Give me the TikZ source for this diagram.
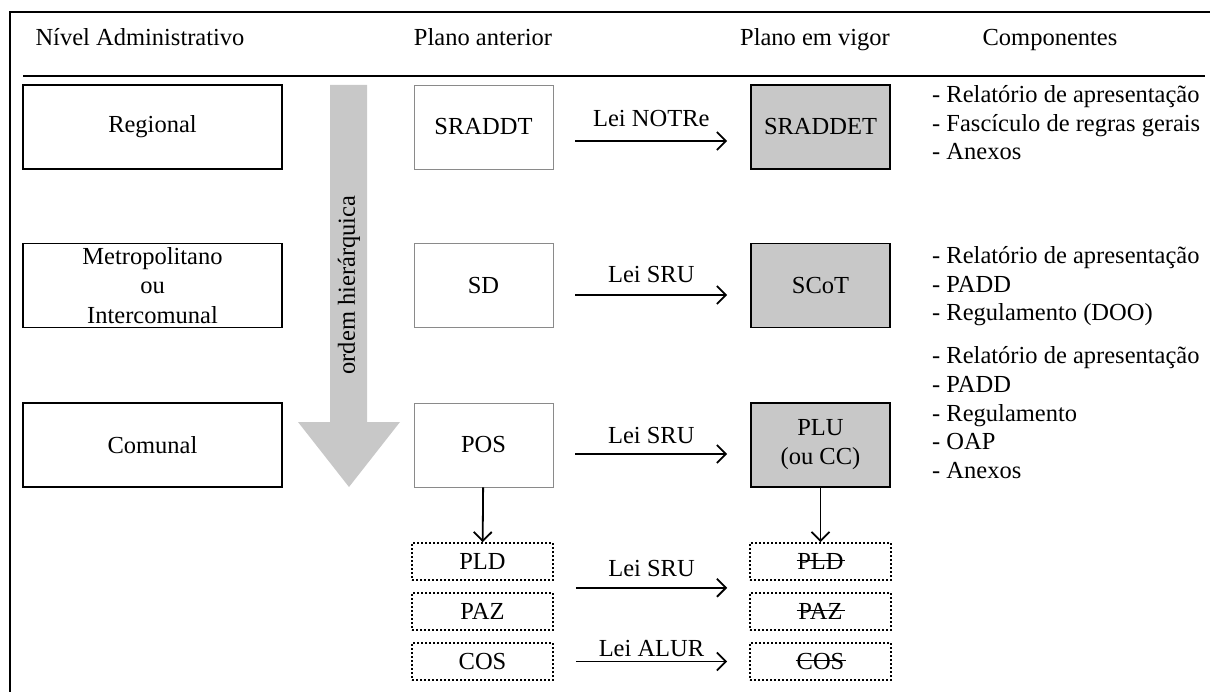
\documentclass[tikz,border=0pt]{standalone}
\usepackage{fontspec}
\setmainfont{Liberation Serif}
\usetikzlibrary{arrows.meta}
\definecolor{boxgray}{HTML}{C8C8C8}
\definecolor{thingray}{HTML}{8A8A8A}
\begin{document}
\begin{tikzpicture}[x=1pt,y=-1pt,
  every node/.style={font=\fontsize{24.5}{29}\selectfont, inner sep=0pt},
  lvl/.style={draw, line width=1.6pt, minimum width=259pt, minimum height=84pt, align=center},
  oldbox/.style={draw=thingray, line width=0.8pt, minimum width=139pt, minimum height=84pt},
  newbox/.style={draw, fill=boxgray, line width=1.6pt, minimum width=139pt, minimum height=84pt, align=center},
  dotbox/.style={draw, line width=1.6pt, dash pattern=on 1.6pt off 2.4pt, minimum width=141pt, minimum height=37pt},
  conn/.style={line width=1.8pt, -{Straight Barb[length=9pt,width=18pt,line width=1.8pt]}},
  strike/.style={line width=1.2pt},
  hdr/.style={anchor=base},
  comp/.style={anchor=base west},
  lab/.style={anchor=base}
]
\useasboundingbox (0,0) rectangle (1210,692);
% frame
\draw[line width=2pt] (10,692) -- (10,12) -- (1210,12);
\draw[line width=1.6pt] (23,76) -- (1205,76);
% headers
\node[hdr] (h1) at (140,46) {Nível Administrativo};
\node[hdr] (h2) at (483,46) {Plano anterior};
\node[hdr] (h3) at (815,46) {Plano em vigor};
\node[hdr] (h4) at (1050,46) {Componentes};
% level boxes
\node[lvl] (reg) at (152.5,127) {Regional};
\node[lvl, font=\fontsize{24.5}{29.5}\selectfont] (met) at (152.5,285.5) {Metropolitano\\ou\\Intercomunal};
\node[lvl] (com) at (152.5,445) {Comunal};
% hierarchy arrow
\fill[boxgray] (330,85) -- (367,85) -- (367,422) -- (400,422) -- (349,487) -- (298,422) -- (330,422) -- cycle;
\node[rotate=90] (ordem) at (349,285) {ordem hierárquica};
% old plans
\node[oldbox] (sraddt) at (483.5,127) {SRADDT};
\node[oldbox] (sd) at (483.5,285.5) {SD};
\node[oldbox] (pos) at (483.5,445) {POS};
% new plans
\node[newbox] (sraddet) at (820.5,127) {SRADDET};
\node[newbox] (scot) at (820.5,285.5) {SCoT};
\node[newbox] (plu) at (820.5,445) {PLU\\(ou CC)};
% dotted boxes
\node[dotbox] (pld) at (482.5,561.5) {PLD};
\node[dotbox] (paz) at (482.5,611.5) {PAZ};
\node[dotbox] (cos) at (482.5,661.5) {COS};
\node[dotbox] (pldn) at (820.5,561.5) {PLD};
\node[dotbox] (pazn) at (820.5,611.5) {PAZ};
\node[dotbox] (cosn) at (820.5,661.5) {COS};
\draw[strike] ([xshift=-24pt,yshift=1pt]pldn.center) -- ([xshift=24pt,yshift=1pt]pldn.center);
\draw[strike] ([xshift=-24pt,yshift=1pt]pazn.center) -- ([xshift=24pt,yshift=1pt]pazn.center);
\draw[strike] ([xshift=-25pt,yshift=1pt]cosn.center) -- ([xshift=25pt,yshift=1pt]cosn.center);
% law arrows
\draw[conn] ([xshift=22pt,yshift=-14pt]sraddt.east) -- ([xshift=-23pt,yshift=-14pt]sraddet.west)
  node[lab, midway, yshift=14pt] (l1) {Lei NOTRe};
\draw[conn] ([xshift=22pt,yshift=-9.5pt]sd.east) -- ([xshift=-23pt,yshift=-9.5pt]scot.west)
  node[lab, midway, yshift=12pt] (l2) {Lei SRU};
\draw[conn] ([xshift=22pt,yshift=-9pt]pos.east) -- ([xshift=-23pt,yshift=-9pt]plu.west)
  node[lab, midway, yshift=11pt] (l3) {Lei SRU};
\draw[conn] ([xshift=22pt,yshift=-7pt]pld.south east) -- ([xshift=-22pt,yshift=-7pt]pldn.south west)
  node[lab, midway, yshift=11pt] (l4) {Lei SRU};
\draw[conn] ([xshift=22pt]cos.east) -- ([xshift=-22pt]cosn.west)
  node[lab, midway, yshift=5pt] (l5) {Lei ALUR};
% vertical arrows
\draw[conn] (pos) -- (pld);
\draw[conn] (plu) -- (pldn);
% components
\node[comp] (c11) at (932,103) {- Relatório de apresentação};
\node[comp] (c12) at (932,131.5) {- Fascículo de regras gerais};
\node[comp] (c13) at (932,160) {- Anexos};
\node[comp] (c21) at (932,264) {- Relatório de apresentação};
\node[comp] (c22) at (932,292.5) {- PADD};
\node[comp] (c23) at (932,321) {- Regulamento (DOO)};
\node[comp] (c31) at (932,364) {- Relatório de apresentação};
\node[comp] (c32) at (932,392.5) {- PADD};
\node[comp] (c33) at (932,421) {- Regulamento};
\node[comp] (c34) at (932,449.5) {- OAP};
\node[comp] (c35) at (932,478) {- Anexos};
\end{tikzpicture}
\end{document}
